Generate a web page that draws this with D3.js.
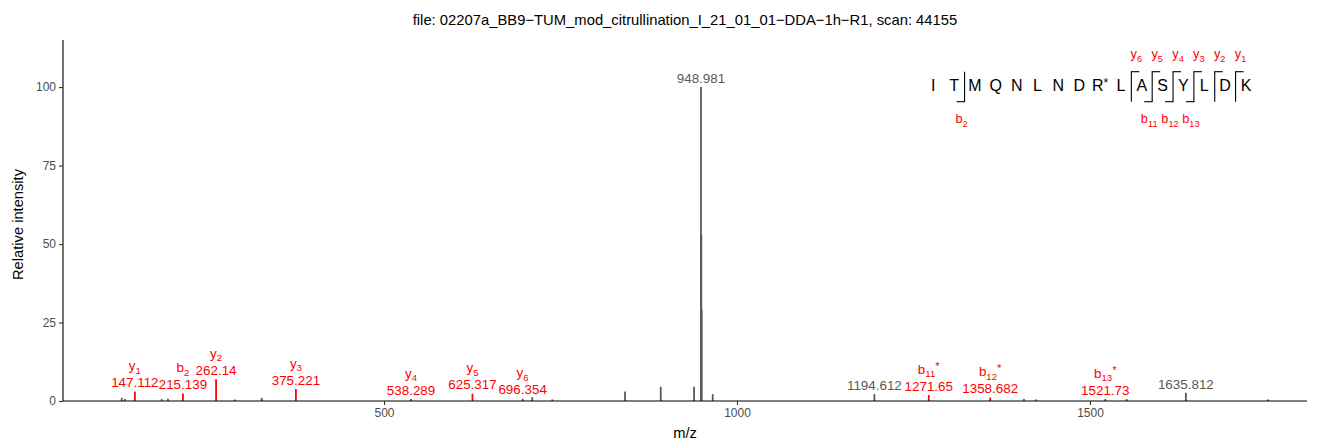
<!DOCTYPE html>
<html><head><meta charset="utf-8">
<script src="https://cdn.jsdelivr.net/npm/d3@7"></script>
<style>
body{margin:0;background:#fff}
text{font-family:"Liberation Sans",Arial,Helvetica,sans-serif}
</style>
</head><body>
<svg id="chart" width="1320" height="443"></svg>
<script>
// ---------------- data ----------------
const titleText = "file: 02207a_BB9\u2212TUM_mod_citrullination_I_21_01_01\u2212DDA\u22121h\u2212R1, scan: 44155";
const peakMz = [128.5, 133, 147.112, 185.1, 194, 215.139, 262.14, 289, 326.8, 375.221,
  538.289, 625.317, 696.354, 710, 738.4, 841.4, 892, 939.2, 948.981, 949.482, 949.983,
  965.6, 1194.612, 1271.65, 1358.682, 1406.5, 1423.1, 1521.73, 1552, 1635.812, 1752.5];
const peakIntensity = [1.0, 0.6, 3.0, 0.6, 0.7, 2.4, 6.9, 0.5, 1.0, 3.8,
  0.6, 2.3, 0.7, 1.2, 0.5, 3.0, 4.5, 4.5, 100, 53, 29,
  2.2, 2.2, 1.9, 1.1, 0.6, 0.5, 0.6, 0.6, 2.6, 0.5];
const peakIon = ["", "", "y1", "", "", "b2", "y2", "", "", "y3",
  "y4", "y5", "y6", "", "", "", "", "", "", "", "",
  "", "", "b11*", "b12*", "", "", "b13*", "", "", ""];
const peakLabel = ["", "", "147.112", "", "", "215.139", "262.14", "", "", "375.221",
  "538.289", "625.317", "696.354", "", "", "", "", "", "948.981", "", "",
  "", "1194.612", "1271.65", "1358.682", "", "", "1521.73", "", "1635.812", ""];
const residues = ["I","T","M","Q","N","L","N","D","R*","L","A","S","Y","L","D","K"];
const bIons = [2, 11, 12, 13];
const yIons = [1, 2, 3, 4, 5, 6];
const xTicks = [500, 1000, 1500];
const yTicks = [0, 25, 50, 75, 100];

// ---------------- layout ----------------
const svg = d3.select("#chart");
const panel = {left: 63, right: 1307, top: 40, bottom: 401};
const x = d3.scaleLinear().domain([45.3, 1807.4]).range([panel.left, panel.right]);
const y = d3.scaleLinear().domain([0, 115]).range([panel.bottom, panel.top]);
const grey = "#595959";
const red = "#FF0000";

const peaks = peakMz.map((m, i) => ({mz: m, int: peakIntensity[i], ion: peakIon[i], label: peakLabel[i]}));

// title
svg.append("text").attr("x", (panel.left + panel.right) / 2).attr("y", 25)
  .attr("text-anchor", "middle").attr("font-size", 14.8).attr("fill", "#000").text(titleText);

// peaks (grey first, red on top)
const sorted = peaks.slice().sort((a, b) => (a.ion ? 1 : 0) - (b.ion ? 1 : 0));
svg.append("g").selectAll("line").data(sorted).join("line")
  .attr("x1", d => x(d.mz)).attr("x2", d => x(d.mz))
  .attr("y1", y(0)).attr("y2", d => y(d.int))
  .attr("stroke", d => d.ion ? red : grey)
  .attr("stroke-width", 1.8);

// axes
const fmt = d3.format("d");
const xAxis = svg.append("g").attr("transform", `translate(0,${panel.bottom})`)
  .call(d3.axisBottom(x).tickValues(xTicks).tickFormat(fmt).tickSizeOuter(0).tickSize(4).tickPadding(3));
const yAxis = svg.append("g").attr("transform", `translate(${panel.left},0)`)
  .call(d3.axisLeft(y).tickValues(yTicks).tickFormat(fmt).tickSizeOuter(0).tickSize(4).tickPadding(3));
[xAxis, yAxis].forEach(g => {
  g.select(".domain").attr("stroke", "#000").attr("stroke-width", 1.1);
  g.selectAll(".tick line").attr("stroke", "#333").attr("stroke-width", 1.1);
  g.selectAll(".tick text").attr("fill", "#4D4D4D").attr("font-size", 12)
   .attr("font-family", '"Liberation Sans",Arial,sans-serif');
});
xAxis.select(".domain").attr("d", `M${panel.left},0H${panel.right}`);
yAxis.select(".domain").attr("d", `M0,${panel.bottom}V${panel.top}`);

// axis titles
svg.append("text").attr("x", (panel.left + panel.right) / 2).attr("y", 438)
  .attr("text-anchor", "middle").attr("font-size", 14.7).text("m/z");
svg.append("text").attr("transform", `translate(23,${(panel.top + panel.bottom) / 2 + 4}) rotate(-90)`)
  .attr("text-anchor", "middle").attr("font-size", 14.7).text("Relative intensity");

// ion name renderer
function ionText(sel, ion, fs) {
  const m = ion.match(/^([a-z])(\d+)(\*?)$/);
  sel.append("tspan").text(m[1]);
  sel.append("tspan").attr("font-size", fs * 0.72).attr("dy", fs * 0.25).text(m[2]);
  if (m[3]) sel.append("tspan").attr("font-size", fs * 0.85).attr("dy", -fs * 0.55).text("*");
}

// peak labels
const lab = svg.append("g");
peaks.filter(d => d.label).forEach(d => {
  const cx = x(d.mz), top = y(d.int);
  lab.append("text").attr("x", cx).attr("y", top - 9).attr("dy", "0.35em")
    .attr("text-anchor", "middle").attr("font-size", 13.4)
    .attr("fill", d.ion ? red : grey).text(d.label);
  if (d.ion) {
    const t = lab.append("text").attr("x", cx).attr("y", top - 26).attr("dy", "0.35em")
      .attr("text-anchor", "middle").attr("font-size", 13.4).attr("fill", red);
    ionText(t, d.ion, 13.4);
  }
});

// peptide annotation
const n = residues.length;
const rx = d3.scalePoint().domain(d3.range(n)).range([933.3, 1246]);
const seqY = 85, fs = 16;
const pep = svg.append("g");
residues.forEach((r, i) => {
  const t = pep.append("text").attr("x", rx(i)).attr("y", seqY).attr("dy", "0.35em")
    .attr("text-anchor", "middle").attr("font-size", fs).attr("fill", "#000");
  if (r.endsWith("*")) {
    t.append("tspan").text(r.slice(0, -1));
    t.append("tspan").attr("font-size", fs * 0.75).attr("dy", -fs * 0.25).text("*");
  } else t.text(r);
});
const cutX = k => (rx(k - 1) + rx(k)) / 2; // cut after k residues
const vTop = 71.7, vBot = 101.7, hook = 8;
const cuts = new Set([...bIons, ...yIons.map(k => n - k)]);
cuts.forEach(k => {
  pep.append("line").attr("x1", cutX(k)).attr("x2", cutX(k)).attr("y1", vTop).attr("y2", vBot)
    .attr("stroke", "#000").attr("stroke-width", 1.1);
});
bIons.forEach(k => {
  const cx = cutX(k);
  pep.append("line").attr("x1", cx - hook).attr("x2", cx + 0.5).attr("y1", vBot).attr("y2", vBot)
    .attr("stroke", "#000").attr("stroke-width", 1.1);
  const t = pep.append("text").attr("x", cx - hook / 2 + 1).attr("y", 119).attr("dy", "0.35em")
    .attr("text-anchor", "middle").attr("font-size", 12.8).attr("fill", red);
  ionText(t, "b" + k, 12.8);
});
yIons.forEach(k => {
  const cx = cutX(n - k);
  pep.append("line").attr("x1", cx - 0.5).attr("x2", cx + hook).attr("y1", vTop).attr("y2", vTop)
    .attr("stroke", "#000").attr("stroke-width", 1.1);
  const t = pep.append("text").attr("x", cx + hook / 2 + 1).attr("y", 54).attr("dy", "0.35em")
    .attr("text-anchor", "middle").attr("font-size", 12.8).attr("fill", red);
  ionText(t, "y" + k, 12.8);
});
</script>
</body></html>
